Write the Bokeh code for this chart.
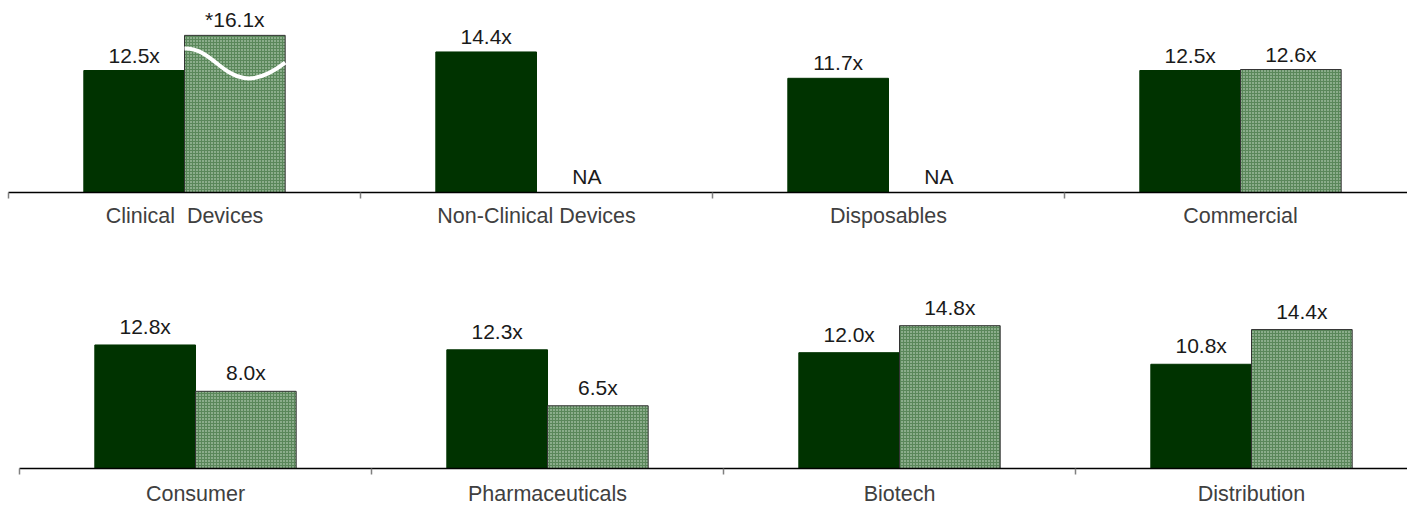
from bokeh.plotting import figure
from bokeh.layouts import column
from bokeh.models import FixedTicker, CustomJSTickFormatter, ColumnDataSource, LabelSet
from bokeh.core.properties import value
from bokeh.embed import file_html
from bokeh.resources import INLINE

# ---- data ----
top_categories = ["Clinical\u00a0 Devices", "Non-Clinical Devices", "Disposables", "Commercial"]
top_series1 = [12.5, 14.4, 11.7, 12.5]
top_series2 = [16.1, None, None, 12.6]
top_labels1 = ["12.5x", "14.4x", "11.7x", "12.5x"]
top_labels2 = ["*16.1x", "NA", "NA", "12.6x"]

bottom_categories = ["Consumer", "Pharmaceuticals", "Biotech", "Distribution"]
bottom_series1 = [12.8, 12.3, 12.0, 10.8]
bottom_series2 = [8.0, 6.5, 14.8, 14.4]
bottom_labels1 = ["12.8x", "12.3x", "12.0x", "10.8x"]
bottom_labels2 = ["8.0x", "6.5x", "14.8x", "14.4x"]

FONT = "Liberation Sans"
DARK = "#003300"
BW = 0.286
W = 1407
LEFT = 8
CAT_PX = 352


def panel(cats, s1, s2, l1, l2, shift, y_end, frame_h, total_h, gap, standoff, wave=False):
    x_start = -shift / CAT_PX
    x_end = x_start + (W - LEFT) / CAT_PX
    p = figure(width=W, height=total_h, x_range=(x_start, x_end), y_range=(0, y_end),
               output_backend="svg", toolbar_location=None,
               min_border_left=LEFT, min_border_right=0, min_border_top=0,
               min_border_bottom=total_h - frame_h)
    p.outline_line_color = None
    p.grid.visible = False
    p.yaxis.visible = False
    n = len(cats)
    centers = [i + 0.5 for i in range(n)]
    x1 = [c - BW / 2 for c in centers]
    x2 = [c + BW / 2 for c in centers]
    p.vbar(x=x1, top=s1, width=BW, bottom=0, fill_color=DARK, line_color=DARK, line_width=1)
    have = [i for i in range(n) if s2[i] is not None]
    p.vbar(x=[x2[i] for i in have], top=[s2[i] for i in have], width=BW, bottom=0,
           fill_color="#5a875a", line_color="#333333", line_width=1,
           hatch_pattern="dot", hatch_color="#d4e6d4", hatch_scale=3, hatch_weight=1)
    if wave:
        xa = x2[0] - BW / 2
        p.bezier(x0=[xa], y0=[14.75], x1=[xa + BW], y1=[13.3],
                 cx0=[xa + 0.35 * BW], cy0=[14.9], cx1=[xa + 0.45 * BW], cy1=[8.9],
                 line_color="white", line_width=4)
    src1 = ColumnDataSource(dict(x=x1, y=s1, t=l1))
    p.add_layout(LabelSet(x="x", y="y", text="t", source=src1, y_offset=gap,
                          text_align="center", text_baseline="alphabetic",
                          text_font=value(FONT), text_font_size=value("21px"),
                          text_color="#1a1a1a"))
    y2 = [s2[i] if s2[i] is not None else 0 for i in range(n)]
    off2 = [gap if s2[i] is not None else 9 for i in range(n)]
    src2 = ColumnDataSource(dict(x=x2, y=y2, t=l2, o=off2))
    p.add_layout(LabelSet(x="x", y="y", text="t", source=src2, y_offset="o",
                          text_align="center", text_baseline="alphabetic",
                          text_font=value(FONT), text_font_size=value("21px"),
                          text_color="#1a1a1a"))
    ax = p.xaxis[0]
    ax.ticker = FixedTicker(ticks=centers, minor_ticks=list(range(n)))
    ax.formatter = CustomJSTickFormatter(args=dict(names=cats),
                                         code="return names[Math.floor(tick)] || '';")
    ax.bounds = (0, x_end)
    ax.axis_line_color = "black"
    ax.axis_line_width = 1.5
    ax.major_tick_out = 0
    ax.major_tick_in = 0
    ax.minor_tick_out = 6
    ax.minor_tick_in = 0
    ax.minor_tick_line_color = "#808080"
    ax.minor_tick_line_width = 1.5
    ax.major_label_standoff = standoff
    ax.major_label_text_font = FONT
    ax.major_label_text_font_size = "21.5px"
    ax.major_label_text_color = "#404040"
    return p


p_top = panel(top_categories, top_series1, top_series2, top_labels1, top_labels2,
              shift=0, y_end=192 / 9.76, frame_h=192, total_h=258,
              gap=8, standoff=5, wave=True)
p_bot = panel(bottom_categories, bottom_series1, bottom_series2, bottom_labels1, bottom_labels2,
              shift=11, y_end=210 / 9.65, frame_h=210, total_h=250,
              gap=11, standoff=7)

layout = column(p_top, p_bot, spacing=0)
open("out.html", "w").write(file_html(layout, INLINE))
